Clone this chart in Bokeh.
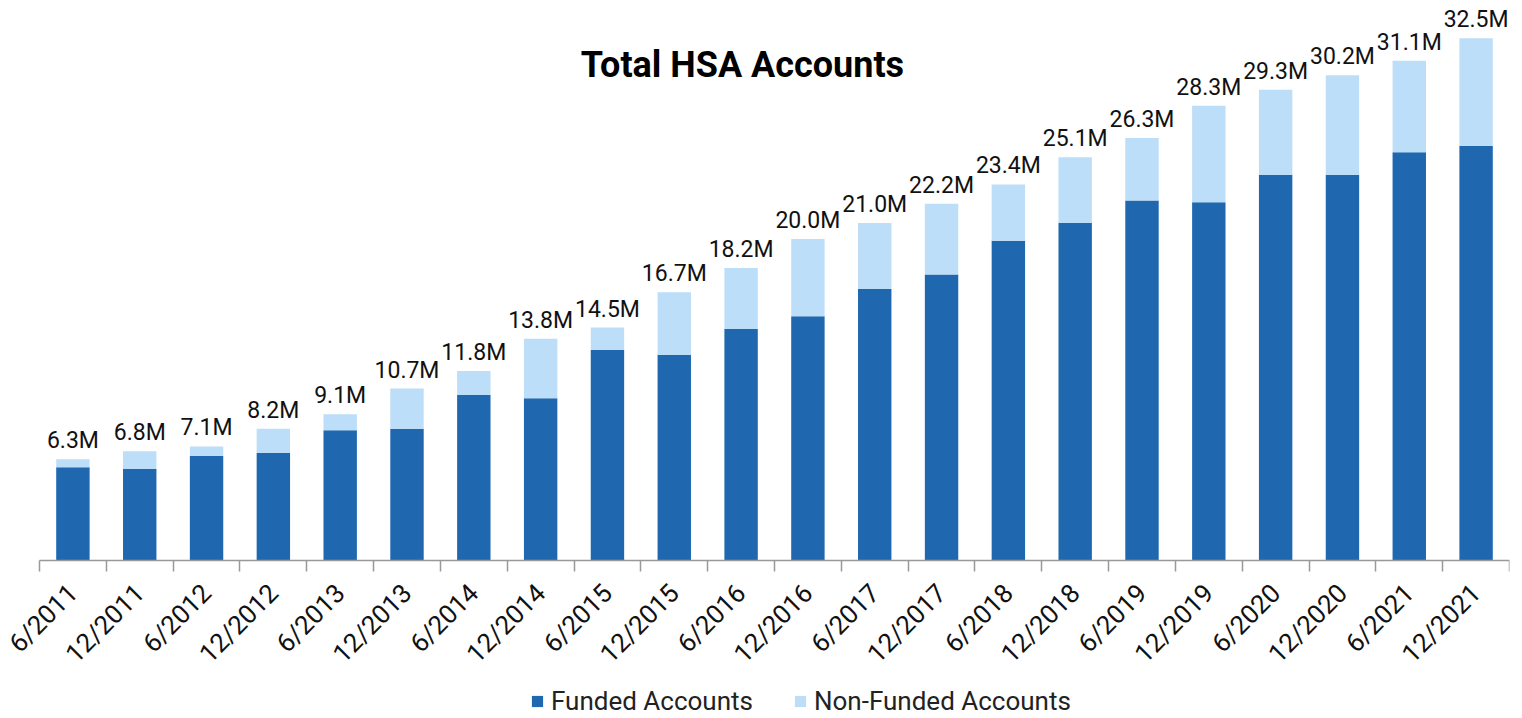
import math
from bokeh.plotting import figure
from bokeh.models import (ColumnDataSource, FixedTicker, LabelSet, Label, Legend,
                          LegendItem, Range1d)
from bokeh.core.properties import value
from bokeh.embed import file_html
from bokeh.resources import INLINE

periods = ["6/2011", "12/2011", "6/2012", "12/2012", "6/2013", "12/2013",
           "6/2014", "12/2014", "6/2015", "12/2015", "6/2016", "12/2016",
           "6/2017", "12/2017", "6/2018", "12/2018", "6/2019", "12/2019",
           "6/2020", "12/2020", "6/2021", "12/2021"]
totals = [6.3, 6.8, 7.1, 8.2, 9.1, 10.7, 11.8, 13.8, 14.5, 16.7, 18.2, 20.0,
          21.0, 22.2, 23.4, 25.1, 26.3, 28.3, 29.3, 30.2, 31.1, 32.5]
funded = [5.8, 5.7, 6.5, 6.7, 8.1, 8.2, 10.3, 10.1, 13.1, 12.8, 14.4, 15.2,
          16.9, 17.8, 19.9, 21.0, 22.4, 22.3, 24.0, 24.0, 25.4, 25.8]
non_funded = [round(t - f, 2) for t, f in zip(totals, funded)]

FONT = "Roboto"
n = len(periods)
xs = [i + 0.5 for i in range(n)]

src = ColumnDataSource(dict(
    x=xs, funded=funded, non_funded=non_funded, total=totals,
    text=[f"{t:.1f}M" for t in totals],
))

# layout: frame spans the whole canvas so rotated tick labels and the legend
# (drawn inside it) are not clipped; the axis sits at y = 0.
PX_PER_UNIT = 560 / 34.85
CAT_PX = 1470 / n
LEFT_PX = 39
FRAME_W = 1509
FRAME_H = 716
x_start = -LEFT_PX / CAT_PX
x_end = (FRAME_W - LEFT_PX) / CAT_PX
y_start = -(FRAME_H - 560) / PX_PER_UNIT

p = figure(frame_width=FRAME_W, frame_height=FRAME_H, output_backend="svg",
           toolbar_location=None,
           x_range=Range1d(x_start, x_end), y_range=Range1d(y_start, 34.85),
           min_border_left=0, min_border_right=5, min_border_top=0,
           min_border_bottom=0)
p.outline_line_color = None
p.grid.visible = False
p.yaxis.visible = False
p.background_fill_color = "white"

rs = p.vbar_stack(["funded", "non_funded"], x="x", width=0.5, source=src,
                  color=["#1f68b0", "#bddef8"], line_color=None)

labels = LabelSet(x="x", y="total", text="text", source=src,
                  text_align="center", text_baseline="alphabetic", y_offset=11,
                  text_font_size=value("23px"), text_font=value(FONT),
                  text_color=value("#111111"))
p.add_layout(labels)

title = Label(x=10.52, y=30.83, text="Total HSA Accounts", text_align="center",
              text_baseline="middle", text_font_size="36px", text_font=FONT,
              text_font_style="bold", text_color="#000000")
p.add_layout(title)

ax = p.xaxis[0]
ax.fixed_location = 0
ax.bounds = (0, n)
ax.ticker = FixedTicker(ticks=xs, minor_ticks=list(range(n + 1)))
ax.major_label_overrides = {x: lab for x, lab in zip(xs, periods)}
ax.major_tick_line_color = None
ax.minor_tick_in = 0
ax.minor_tick_out = 11
ax.minor_tick_line_color = "#999999"
ax.minor_tick_line_width = 1.5
ax.axis_line_color = "#999999"
ax.axis_line_width = 1.5
ax.major_label_orientation = math.pi / 4
ax.major_label_text_font = FONT
ax.major_label_text_font_size = "26px"
ax.major_label_text_color = "#111111"
ax.major_label_standoff = 17

legend = Legend(items=[LegendItem(label="Funded Accounts", renderers=[rs[0]]),
                       LegendItem(label="Non-Funded Accounts", renderers=[rs[1]])],
                orientation="horizontal", location=(530, 0),
                label_text_font=FONT, label_text_font_size="26px",
                label_text_color="#222222", glyph_width=14, glyph_height=14,
                label_standoff=7, spacing=40, border_line_color=None,
                background_fill_alpha=0, padding=0, margin=0)
p.add_layout(legend)

open("out.html", "w").write(file_html(p, INLINE))
